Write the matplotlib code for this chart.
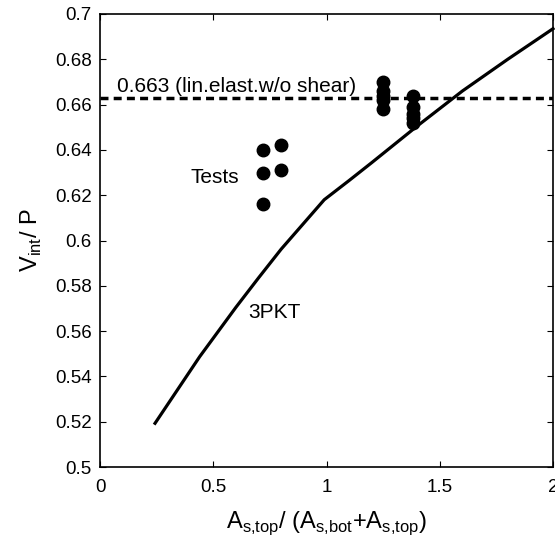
import matplotlib
matplotlib.use("Agg")
import matplotlib.pyplot as plt

plt.rcParams["font.family"] = ["Liberation Sans", "DejaVu Sans"]

# 3PKT model curve
curve_x = [0.243, 0.44, 0.6, 0.7, 0.8, 0.99, 1.1, 1.2, 1.4, 1.6, 1.8, 2.0]
curve_y = [0.5193, 0.5487, 0.5705, 0.5835, 0.5962, 0.618, 0.6265, 0.6344, 0.6505, 0.666, 0.680, 0.6935]

# test results
test_x = [0.72, 0.72, 0.72, 0.80, 0.80,
          1.25, 1.25, 1.25, 1.25, 1.25,
          1.38, 1.38, 1.38, 1.38, 1.38]
test_y = [0.640, 0.630, 0.616, 0.642, 0.631,
          0.670, 0.666, 0.664, 0.662, 0.658,
          0.664, 0.659, 0.656, 0.654, 0.652]

lin_elast = 0.663

fig = plt.figure(figsize=(5.55, 5.39), dpi=100)
ax = fig.add_axes([100 / 555, 1 - 467 / 539, 453 / 555, 453 / 539])

ax.plot(curve_x, curve_y, color="black", lw=2.3, clip_on=False)
ax.axhline(lin_elast, color="black", lw=2.5, ls=(0, (2.3, 1.5)))
ax.plot(test_x, test_y, "o", color="black", ms=9, clip_on=False)

ax.text(0.075, 0.6657, "0.663 (lin.elast.w/o shear)", fontsize=15)
ax.text(0.40, 0.6255, "Tests", fontsize=15)
ax.text(0.655, 0.566, "3PKT", fontsize=15)

ax.set_xlim(0, 2)
ax.set_ylim(0.5, 0.7)
ax.set_xticks([0, 0.5, 1, 1.5, 2])
ax.set_xticklabels(["0", "0.5", "1", "1.5", "2"])
ax.set_yticks([0.5, 0.52, 0.54, 0.56, 0.58, 0.6, 0.62, 0.64, 0.66, 0.68, 0.7])
ax.set_yticklabels(["0.5", "0.52", "0.54", "0.56", "0.58", "0.6", "0.62",
                    "0.64", "0.66", "0.68", "0.7"])
ax.tick_params(direction="in", top=True, right=True, labelsize=13.5, length=4)
ax.tick_params(axis="x", pad=9)
ax.tick_params(axis="y", pad=6)
for s in ax.spines.values():
    s.set_linewidth(1.2)

ax.set_xlabel(r"A$_{\mathregular{s{,}top}}$/ (A$_{\mathregular{s{,}bot}}$+A$_{\mathregular{s{,}top}}$)",
              fontsize=17, labelpad=9)
ax.set_ylabel(r"V$_{\mathregular{int}}$/ P", fontsize=17, labelpad=8)

fig.savefig("out.png", dpi=100)
